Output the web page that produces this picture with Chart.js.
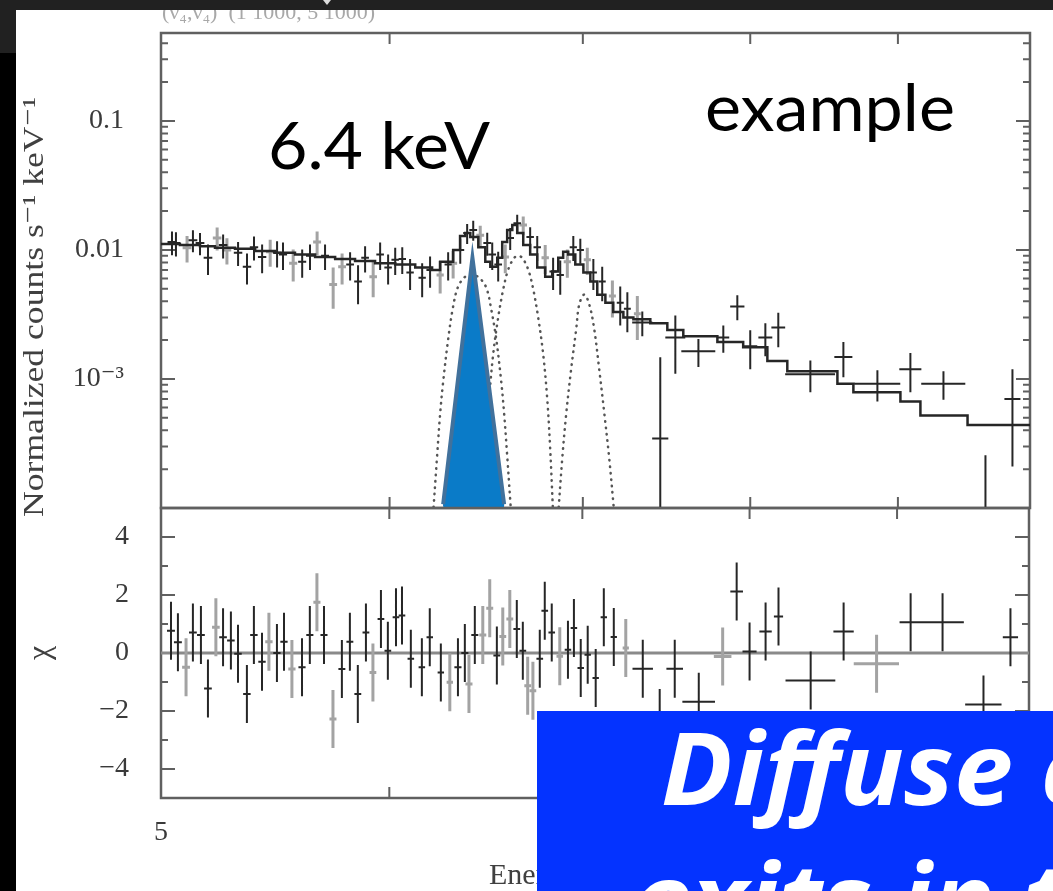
<!DOCTYPE html>
<html>
<head>
<meta charset="utf-8">
<script src="https://cdn.jsdelivr.net/npm/chart.js@4.4.1/dist/chart.umd.min.js"></script>
<style>
  html, body { margin: 0; padding: 0; background: #000; }
  #page { position: relative; width: 1053px; height: 891px; overflow: hidden; background: #000; }
  #sheet { position: absolute; left: 16px; top: 10px; right: 0; bottom: 0; background: #fff; }
  #topbar { position: absolute; left: 0; top: 0; width: 1053px; height: 10px; background: #212121; z-index: 5; }
  #corner { position: absolute; left: 0; top: 0; width: 16px; height: 53px; background: #212121; z-index: 5; }
  #marker { position: absolute; left: 323px; top: 0; width: 0; height: 0; border-left: 4px solid transparent;
            border-right: 4px solid transparent; border-top: 5px solid #ddd; z-index: 6; }
  canvas { position: absolute; left: 0; top: 0; }
</style>
</head>
<body>
<div id="page">
  <div id="sheet"></div>
  <canvas id="specChart" width="1053" height="891"></canvas>
  <canvas id="resChart" width="1053" height="891"></canvas>
  <div id="topbar"></div>
  <div id="corner"></div>
  <div id="marker"></div>
</div>
<script>
// axes
const xMin = 5, xMax = 10;
const yMin = 1.0e-4, yMax = 0.48;
const chiMin = -5, chiMax = 5;
const xTickValues = [5, 6, 7, 8, 9, 10];
const xTickLabels = ['5', '', '', '', '', '10'];
const yMajorValues = [1e-3, 1e-2, 1e-1];
const yMajorLabels = ['10⁻³', '0.01', '0.1'];
const yDecades = [1e-4, 1e-3, 1e-2, 1e-1];
const yMantissas = [1, 2, 3, 4, 5, 6, 7, 8, 9];
const chiTickValues = [-4, -3, -2, -1, 0, 1, 2, 3, 4];
const chiTickLabels = ['−4', '', '−2', '', '0', '', '2', '', '4'];

// spectrum (keV, counts s^-1 keV^-1)
const specE = [5.044,5.060,5.105,5.129,5.158,5.191,5.229,5.254,5.270,5.317,5.355,5.385,5.420,5.455,5.485,5.511,5.556,5.596,
  5.631,5.663,5.699,5.736,5.777,5.814,5.851,5.884,5.922,5.955,5.993,6.027,6.061,6.099,6.158,6.197,6.247,6.287,
  6.312,6.348,6.383,6.414,6.450,6.486,6.512,6.543,6.580,6.606,6.643,6.675,6.712,6.750,6.793,6.836,6.875,6.914,
  6.947,6.986,7.025,7.059,7.109,7.167,7.212,7.253,7.311,
  7.340,7.446,7.536,7.676,7.830,7.918,8.000,8.097,8.181,8.393,8.617,8.854,9.090,9.333,9.651,9.861];
const specXerr = [0.018,0.018,0.018,0.018,0.018,0.018,0.018,0.018,0.018,0.018,0.018,0.018,0.018,0.018,0.018,0.018,0.018,0.018,
  0.018,0.018,0.018,0.018,0.018,0.018,0.018,0.018,0.018,0.018,0.018,0.018,0.018,0.018,0.018,0.018,0.018,0.018,
  0.020,0.020,0.020,0.020,0.020,0.020,0.020,0.020,0.020,0.020,0.020,0.020,0.020,0.020,0.020,0.020,0.020,0.020,
  0.020,0.020,0.020,0.020,0.020,0.020,0.020,0.020,0.020,
  0.059,0.048,0.060,0.104,0.037,0.045,0.045,0.045,0.045,0.167,0.062,0.163,0.080,0.164,0.146,0.063];
const specVal = [0.0115,0.0113,0.0104,0.0119,0.0113,0.0087,0.0124,0.0109,0.0100,0.0095,0.0074,0.0105,0.0088,0.0097,0.0095,0.0092,0.0079,0.0081,
  0.0090,0.0115,0.0090,0.0054,0.0074,0.0077,0.0057,0.0087,0.0062,0.0092,0.0073,0.0084,0.0085,0.0067,0.0061,0.0070,0.0064,0.0077,
  0.0079,0.0100,0.0135,0.0143,0.0130,0.0113,0.0092,0.0077,0.0088,0.0124,0.0161,0.0156,0.0126,0.0105,0.0087,0.0068,0.0064,0.0081,
  0.0105,0.0100,0.0084,0.0067,0.0057,0.0044,0.0039,0.0035,0.0032,
  0.00274,0.000345,0.0021,0.00164,0.0021,0.00365,0.00179,0.0021,0.00251,0.00109,0.00148,0.00092,0.00119,0.00092,0.00009,0.00070];
const specErr = [0.0024,0.0024,0.0024,0.0023,0.0022,0.0023,0.0025,0.0023,0.0023,0.0020,0.0020,0.0022,0.0022,0.0023,0.0022,0.0022,0.0022,0.0020,
  0.0020,0.0024,0.0020,0.0019,0.0020,0.0019,0.0019,0.0020,0.0019,0.0022,0.0019,0.0020,0.0020,0.0018,0.0018,0.0019,0.0018,0.0019,
  0.0019,0.0022,0.0024,0.0025,0.0024,0.0023,0.0022,0.0020,0.0022,0.0024,0.0026,0.0026,0.0024,0.0023,0.0022,0.0019,0.0019,0.0020,
  0.0023,0.0022,0.0020,0.0018,0.0017,0.0014,0.0013,0.0012,0.0012,
  0.0006,0.00113,0.0010,0.0004,0.0005,0.0008,0.0006,0.0006,0.00075,0.0003,0.00045,0.00025,0.0004,0.00023,0.000166,0.00049];
const specGray = [0,0,1,0,0,0,1,0,1,0,0,0,0,1,0,0,1,0,
  0,1,0,1,1,0,0,0,1,0,0,0,0,0,0,0,1,0,
  1,0,0,0,1,0,0,0,1,0,0,1,0,0,1,0,0,1,
  0,0,1,0,0,1,0,0,1,
  0,0,0,0,0,0,0,0,0,0,0,0,0,0,0,0];

// best-fit model, step values at bin left edges
const modelE = [5.0,5.076,5.158,5.220,5.304,5.390,5.476,5.564,5.654,5.745,5.837,5.931,6.027,6.124,6.207,6.247,
  6.312,6.347,6.373,6.399,6.440,6.476,6.502,6.538,6.564,6.590,6.617,6.643,6.675,6.712,6.750,6.793,6.831,6.864,
  6.891,6.919,6.958,7.003,7.042,7.081,7.127,7.172,7.230,7.288,7.387,7.488,7.584,7.793,7.955,8.110,8.240,8.576,
  8.686,9.018,9.163,9.514,9.790,10.0];
const modelVal = [0.0113,0.0111,0.0109,0.0107,0.0104,0.0102,0.0098,0.0095,0.0092,0.0088,0.0085,0.0082,0.0079,0.0077,0.0073,0.0070,
  0.0081,0.0100,0.0128,0.0135,0.0126,0.0105,0.0081,0.0074,0.0087,0.0115,0.0143,0.0156,0.0135,0.0109,0.0092,0.0073,0.0062,0.0068,
  0.0087,0.0097,0.0092,0.0077,0.0067,0.0057,0.0045,0.0039,0.0033,0.0030,0.0029,0.0027,0.0024,0.00214,0.00193,0.00176,0.00138,0.00115,
  0.00092,0.00079,0.00067,0.00052,0.00044,0.00044];

// gaussian line components (dotted)
const fe64E = [6.212,6.232,6.247,6.262,6.287,6.312,6.337,6.373,6.409,6.445,6.481,6.507,6.533,6.559,6.574,6.590,6.611];
const fe64Val = [9e-5,2.56e-4,5.4e-4,9.5e-4,2.03e-3,3.65e-3,5.19e-3,6.20e-3,6.42e-3,6.09e-3,5.10e-3,3.46e-3,2.03e-3,9.5e-4,5.4e-4,2.56e-4,9e-5];
const fe67E = [6.465,6.481,6.496,6.517,6.543,6.569,6.595,6.627,6.648,6.670,6.702,6.729,6.755,6.782,6.804,6.820,6.836];
const fe67Val = [9e-5,2.9e-4,7.0e-4,1.56e-3,3.0e-3,4.92e-3,7.02e-3,8.68e-3,8.99e-3,8.68e-3,7.02e-3,4.92e-3,3.0e-3,1.56e-3,7.0e-4,2.9e-4,9e-5];
const fe70E = [6.864,6.886,6.908,6.935,6.963,6.980,7.008,7.036,7.064,7.092,7.121,7.149,7.178];
const fe70Val = [9e-5,2.42e-4,5.4e-4,1.19e-3,2.43e-3,3.78e-3,4.51e-3,3.78e-3,2.43e-3,1.19e-3,5.4e-4,2.42e-4,9e-5];

// overlay triangle marking 6.4 keV
const markE = [6.262, 6.410, 6.574];
const markVal = [1.07e-4, 0.00868, 1.07e-4];

// residuals (chi)
const resE = [5.040,5.068,5.101,5.129,5.162,5.191,5.224,5.254,5.287,5.317,5.355,5.385,5.420,5.450,5.485,5.516,5.551,5.596,
  5.631,5.663,5.695,5.736,5.777,5.814,5.851,5.889,5.922,5.960,5.993,6.032,6.061,6.104,6.158,6.197,6.252,6.297,
  6.338,6.373,6.394,6.424,6.465,6.501,6.538,6.569,6.606,6.643,6.675,6.701,6.729,6.766,6.793,6.831,6.875,6.920,
  6.953,6.991,7.030,7.075,7.121,7.178,7.247,
  7.346,7.446,7.536,7.682,7.830,7.918,8.000,8.103,8.187,8.400,8.624,8.854,9.098,9.333,9.643,9.853];
const resXerr = [0.016,0.016,0.016,0.016,0.016,0.016,0.016,0.016,0.016,0.016,0.016,0.016,0.016,0.016,0.016,0.016,0.016,0.016,
  0.016,0.016,0.016,0.016,0.016,0.016,0.016,0.016,0.016,0.016,0.016,0.016,0.016,0.016,0.016,0.016,0.016,0.016,
  0.018,0.018,0.018,0.018,0.018,0.018,0.018,0.018,0.018,0.018,0.018,0.018,0.018,0.018,0.018,0.018,0.018,0.018,
  0.018,0.018,0.018,0.018,0.018,0.018,0.018,
  0.060,0.030,0.050,0.100,0.055,0.040,0.045,0.040,0.030,0.167,0.070,0.160,0.080,0.160,0.140,0.060];
const resChi = [0.77,0.37,-0.49,0.71,0.62,-1.22,0.89,0.54,0.43,-0.03,-1.41,0.62,-0.30,0.39,0.00,0.39,-0.55,-0.49,
  0.62,1.75,0.62,-2.28,-0.55,0.39,-1.41,0.71,-0.67,1.17,0.08,1.23,1.29,-0.20,-0.49,0.54,-0.67,-1.01,
  -0.49,0.00,-1.07,0.62,0.62,1.54,-0.09,0.57,1.17,0.83,0.08,-1.13,-1.30,-0.20,1.46,0.71,-0.11,0.11,
  0.86,-0.52,-0.06,-0.86,1.23,0.55,0.17,
  -0.54,-2.24,-0.54,-1.68,-0.12,2.12,0.05,0.74,1.26,-0.95,0.74,-0.37,1.06,1.06,-1.78,0.54];
const resGray = [0,0,1,0,0,0,1,0,0,0,0,0,0,1,0,0,1,0,
  0,1,0,1,0,0,0,0,1,0,0,0,0,0,0,0,0,1,
  0,0,1,0,1,1,0,1,1,0,0,1,1,0,0,0,1,0,
  0,0,0,0,0,0,1,
  0,0,0,0,1,0,0,0,0,0,0,1,0,0,0,0];
const chiErr = 1;

const axisColor = '#606060';
const inkBlack = '#262626';
const inkGray = '#a3a3a3';
const labelColor = '#3a3a3a';
const serif = "'Liberation Serif', 'DejaVu Serif', serif";

Chart.defaults.font.family = serif;
Chart.defaults.animation = false;

function crossPoints(E, xe, v, e, floor, keep) {
  const pts = [];
  E.forEach((x, i) => {
    if (!keep(i)) return;
    const err = Array.isArray(e) ? e[i] : e;
    pts.push({x: x - xe[i], y: v[i]}, {x: x + xe[i], y: v[i]}, {x: x, y: null});
    pts.push({x: x, y: Math.max(v[i] - err, floor)}, {x: x, y: v[i] + err}, {x: x, y: null});
  });
  return pts;
}

function pairs(E, v) {
  return E.map((x, i) => ({x: x, y: v[i]}));
}

function fitText(ctx, text, x, y, w, font, color, ref, angle) {
  ctx.save();
  ctx.font = font;
  ctx.fillStyle = color;
  ctx.textAlign = 'left';
  ctx.textBaseline = 'alphabetic';
  const k = w / ctx.measureText(ref || text).width;
  ctx.translate(x, y);
  if (angle) ctx.rotate(angle);
  ctx.scale(k, 1);
  ctx.fillText(text, 0, 0);
  ctx.restore();
}

function drawFrame(chart, yTicks) {
  const {ctx, chartArea: a, scales: {x, y}} = chart;
  ctx.save();
  ctx.strokeStyle = axisColor;
  ctx.lineWidth = 2;
  ctx.beginPath();
  xTickValues.slice(1, -1).forEach(v => {
    const px = x.getPixelForValue(v);
    ctx.moveTo(px, a.top); ctx.lineTo(px, a.top + 11);
    ctx.moveTo(px, a.bottom); ctx.lineTo(px, a.bottom - 11);
  });
  yTicks.forEach(t => {
    const py = y.getPixelForValue(t.value);
    const len = t.major ? 14 : 7;
    ctx.moveTo(a.left, py); ctx.lineTo(a.left + len, py);
    ctx.moveTo(a.right, py); ctx.lineTo(a.right - len, py);
  });
  ctx.stroke();
  ctx.lineWidth = 2.5;
  ctx.strokeRect(a.left, a.top, a.right - a.left, a.bottom - a.top);
  ctx.restore();
}

const specTicks = [];
yDecades.forEach(d => yMantissas.forEach(m => {
  const v = m * d;
  if (v > yMin && v < yMax) specTicks.push({value: v, major: m === 1});
}));
const chiTicks = chiTickValues.map(v => ({value: v, major: v % 2 === 0}));

const specDecor = {
  id: 'specDecor',
  beforeDatasetsDraw(chart) { drawFrame(chart, specTicks); },
  afterDraw(chart) {
    const ctx = chart.ctx;
    ctx.save();
    ctx.font = '22px ' + serif;
    ctx.fillStyle = '#a8a8a8';
    ctx.fillText('(ν₄,ν₄)  (1 1000, 5 1000)', 162, 19);
    ctx.restore();
    fitText(ctx, '6.4 keV', 268, 169, 222, '66px Lato', '#000');
    fitText(ctx, 'example', 705, 131, 250, '66px Lato', '#000');
    fitText(ctx, 'Normalized counts s⁻¹ keV⁻¹', 43, 517, 420, '30px ' + serif, '#404040', null, -Math.PI / 2);
  }
};

const resDecor = {
  id: 'resDecor',
  beforeDatasetsDraw(chart) { drawFrame(chart, chiTicks); },
  afterDraw(chart) {
    const ctx = chart.ctx;
    ctx.save();
    ctx.fillStyle = '#404040';
    ctx.font = '32px ' + serif;
    ctx.translate(49, 653);
    ctx.rotate(-Math.PI / 2);
    ctx.textAlign = 'center';
    ctx.fillText('χ', 0, 0);
    ctx.restore();
    ctx.save();
    ctx.fillStyle = '#404040';
    ctx.font = '30px ' + serif;
    ctx.fillText('Energy (keV)', 489, 884);
    ctx.restore();
    // slide caption box
    ctx.save();
    ctx.fillStyle = '#0433ff';
    ctx.fillRect(537, 711, 516, 180);
    ctx.restore();
    const capFont = "italic bold 100px 'Open Sans'";
    fitText(ctx, 'Diffuse c', 661, 805, 352, capFont, '#fff', 'Diffuse');
    ctx.save();
    ctx.font = capFont;
    const k = 352 / ctx.measureText('Diffuse').width;
    ctx.fillStyle = '#fff';
    ctx.translate(632, 936);
    ctx.scale(k, 1);
    ctx.fillText('exits in th', 0, 0);
    ctx.restore();
  }
};

const lineBase = {showLine: true, pointRadius: 0, fill: false, tension: 0, spanGaps: false};
const dotted = {tension: 0.35, borderColor: '#555', borderWidth: 2.5, borderDash: [0.5, 6], borderCapStyle: 'round', order: 5};

new Chart(document.getElementById('specChart'), {
  type: 'line',
  data: {
    datasets: [
      Object.assign({}, lineBase, {label: '6.4 keV', data: pairs(markE, markVal), borderColor: '#41719c',
        backgroundColor: '#0a7bc8', borderWidth: 4, fill: 'start', borderJoinStyle: 'miter', order: 0}),
      Object.assign({}, lineBase, {label: '6.4 keV base', data: pairs([markE[0], markE[2]], [markVal[0], markVal[2]]),
        borderColor: '#41719c', borderWidth: 4, order: 0}),
      Object.assign({}, lineBase, {label: 'model', data: pairs(modelE, modelVal), stepped: 'after',
        borderColor: inkBlack, borderWidth: 2.5, order: 2}),
      Object.assign({}, lineBase, {label: 'data 1', data: crossPoints(specE, specXerr, specVal, specErr, 1e-6, i => !specGray[i]),
        borderColor: inkBlack, borderWidth: 2, order: 3}),
      Object.assign({}, lineBase, {label: 'data 2', data: crossPoints(specE, specXerr, specVal, specErr, 1e-6, i => specGray[i]),
        borderColor: inkGray, borderWidth: 3, order: 4}),
      Object.assign({}, lineBase, dotted, {label: 'Fe I', data: pairs(fe64E, fe64Val)}),
      Object.assign({}, lineBase, dotted, {label: 'Fe XXV', data: pairs(fe67E, fe67Val)}),
      Object.assign({}, lineBase, dotted, {label: 'Fe XXVI', data: pairs(fe70E, fe70Val)})
    ]
  },
  options: {
    responsive: false,
    events: [],
    layout: {padding: {top: 33, right: 23, bottom: 383, left: 0}},
    plugins: {legend: {display: false}, tooltip: {enabled: false}},
    scales: {
      x: {type: 'logarithmic', min: xMin, max: xMax, display: false},
      y: {
        type: 'logarithmic', min: yMin, max: yMax,
        grid: {display: false}, border: {display: false},
        afterBuildTicks: s => { s.ticks = yMajorValues.map(v => ({value: v})); },
        afterFit: s => { s.width = 161; s.paddingTop = 0; s.paddingBottom = 0; },
        ticks: {
          autoSkip: false, padding: 29, color: labelColor, font: {size: 28, family: serif},
          callback: (v, i) => yMajorLabels[i]
        }
      }
    }
  },
  plugins: [specDecor]
});

new Chart(document.getElementById('resChart'), {
  type: 'line',
  data: {
    datasets: [
      Object.assign({}, lineBase, {label: 'zero', data: pairs([xMin, xMax], [0, 0]), borderColor: '#8a8a8a', borderWidth: 3, order: 5}),
      Object.assign({}, lineBase, {label: 'res 1', data: crossPoints(resE, resXerr, resChi, chiErr, -Infinity, i => !resGray[i]),
        borderColor: inkBlack, borderWidth: 2, order: 1}),
      Object.assign({}, lineBase, {label: 'res 2', data: crossPoints(resE, resXerr, resChi, chiErr, -Infinity, i => resGray[i]),
        borderColor: inkGray, borderWidth: 3, order: 2})
    ]
  },
  options: {
    responsive: false,
    events: [],
    layout: {padding: {top: 508, right: 23, bottom: 0, left: 0}},
    plugins: {legend: {display: false}, tooltip: {enabled: false}},
    scales: {
      x: {
        type: 'logarithmic', min: xMin, max: xMax,
        grid: {display: false}, border: {display: false},
        afterBuildTicks: s => { s.ticks = xTickValues.map(v => ({value: v})); },
        afterFit: s => { s.height = 93; },
        ticks: {autoSkip: false, maxRotation: 0, padding: 10, color: labelColor, font: {size: 28, family: serif},
          callback: (v, i) => xTickLabels[i]}
      },
      y: {
        type: 'linear', min: chiMin, max: chiMax,
        grid: {display: false}, border: {display: false},
        afterBuildTicks: s => { s.ticks = chiTickValues.map(v => ({value: v})); },
        afterFit: s => { s.width = 161; },
        ticks: {autoSkip: false, padding: 24, color: labelColor, font: {size: 28, family: serif},
          callback: (v, i) => chiTickLabels[i]}
      }
    }
  },
  plugins: [resDecor]
});
</script>
</body>
</html>
